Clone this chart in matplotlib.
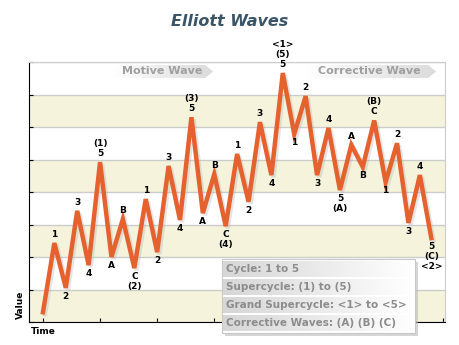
import matplotlib.pyplot as plt
import matplotlib.patheffects as pe
from matplotlib.patches import Polygon, Rectangle
import numpy as np

# wave points (time index -> value)
values = [0.3, 2.43, 1.05, 3.42, 1.75, 4.92,
          2.0, 3.17, 1.66,
          3.78, 2.15, 4.8, 3.14, 6.3,
          3.35, 4.55, 2.95,
          5.17, 3.7, 6.15, 4.52, 7.66,
          5.78, 6.95, 4.52, 5.97, 4.06,
          5.45, 4.77, 6.2,
          4.3, 5.5, 3.05, 4.52, 2.58]
labels = ['', '1', '2', '3', '4', '(1)\n5',
          'A', 'B', 'C\n(2)',
          '1', '2', '3', '4', '(3)\n5',
          'A', 'B', 'C\n(4)',
          '1', '2', '3', '4', '<1>\n(5)\n5',
          '1', '2', '3', '4', '5\n(A)',
          'A', 'B', '(B)\nC',
          '1', '2', '3', '4', '5\n(C)\n<2>']
legend_rows = ['Cycle: 1 to 5', 'Supercycle: (1) to (5)',
               'Grand Supercycle: <1> to <5>', 'Corrective Waves: (A) (B) (C)']
x = np.arange(len(values))

W, H = 460, 345
fig = plt.figure(figsize=(W / 100, H / 100), dpi=100, facecolor='white')
ax = fig.add_axes([29 / W, 1 - 322 / H, 416 / W, 260 / H])

# striped background
for k in range(0, 8, 2):
    ax.axhspan(k, k + 1, color='#f5f3dc', lw=0, zorder=0)
ax.set_ylim(0, 8)
ax.set_xlim(-1.22, 35.2)
ax.set_yticks(range(9))
ax.set_xticks(range(0, 36, 5))
ax.grid(axis='y', color='#cccccc', lw=1, zorder=1)
ax.tick_params(direction='in', length=3, labelleft=False, labelbottom=False, color='black')
for s in ['top', 'right']:
    ax.spines[s].set_color('#cccccc')
for s in ['left', 'bottom']:
    ax.spines[s].set_color('black')

ax.plot(x, values, color='#e5622f', lw=3.2, solid_joinstyle='miter', zorder=5,
        path_effects=[pe.SimpleLineShadow(offset=(1.5, -1.5), shadow_color='#aaaaaa', alpha=0.3),
                      pe.Normal()])

for i, (v, lab) in enumerate(zip(values, labels)):
    if not lab:
        continue
    prev = values[i - 1] if i > 0 else -1
    nxt = values[i + 1] if i < len(values) - 1 else -1
    if v > prev and v > nxt:
        ax.annotate(lab, (i, v), xytext=(0, 3), textcoords='offset points',
                    ha='center', va='bottom', fontsize=6.5, fontweight='bold',
                    linespacing=1.15, zorder=6)
    else:
        ax.annotate(lab, (i, v), xytext=(0, -3), textcoords='offset points',
                    ha='center', va='top', fontsize=6.5, fontweight='bold',
                    linespacing=1.15, zorder=6)

# overlay in pixel coordinates for title, banners and the key box
ov = fig.add_axes([0, 0, 1, 1], zorder=10)
ov.patch.set_alpha(0)
ov.axis('off')


def gradient(x0, x1, y0, y1, c0, c1, clip=None):
    g = np.linspace(0, 1, 64)[None, :, None]
    img = (1 - g) * np.array(c0)[None, None, :] + g * np.array(c1)[None, None, :]
    im = ov.imshow(img, extent=(x0, x1, y1, y0), aspect='auto', interpolation='bilinear', zorder=2)
    if clip is not None:
        im.set_clip_path(clip)


def banner(x0, x1, text, tx):
    poly = Polygon([(x0, 65), (x1 - 8, 65), (x1, 71.5), (x1 - 8, 78), (x0, 78)],
                   closed=True, fc='none', ec='none')
    ov.add_patch(poly)
    gradient(x0, x1, 65, 78, (1, 1, 1), (0.86, 0.86, 0.86), clip=poly)
    ov.text(tx, 71.5, text, ha='center', va='center', fontsize=8, fontweight='bold',
            color='#a0a0a0', zorder=3)


banner(112, 213, 'Motive Wave', 162)
banner(306, 436, 'Corrective Wave', 369)

ov.text(230, 22, 'Elliott Waves', ha='center', va='center', fontsize=11.5,
        fontweight='bold', fontstyle='italic', color='#3b5568')
ov.text(20, 305, 'Value', ha='center', va='center', rotation=90, fontsize=6.5, fontweight='bold')
ov.text(43, 331, 'Time', ha='center', va='center', fontsize=6.5, fontweight='bold')

# key box
bx0, by0, bx1, by1 = 222, 259, 415, 333
ov.add_patch(Rectangle((bx0 + 3, by0 + 3), bx1 - bx0, by1 - by0, fc='#bbbbbb', ec='none', alpha=0.6, zorder=1))
ov.add_patch(Rectangle((bx0, by0), bx1 - bx0, by1 - by0, fc='white', ec='#c8c8c8', lw=0.8, zorder=1.5))
row_h = (by1 - by0 - 2) / len(legend_rows)
for j, row in enumerate(legend_rows):
    y0 = by0 + 1 + j * row_h
    gradient(bx0 + 1, bx1 - 1, y0 + 1, y0 + row_h - 1, (0.84, 0.84, 0.84), (1, 1, 1))
    ov.text(bx0 + 4, y0 + row_h / 2, row, ha='left', va='center', fontsize=7.5,
            fontweight='bold', color='#8c8c8c', zorder=3)

ov.set_xlim(0, W)
ov.set_ylim(H, 0)

fig.savefig('out.png', dpi=100, facecolor='white')
